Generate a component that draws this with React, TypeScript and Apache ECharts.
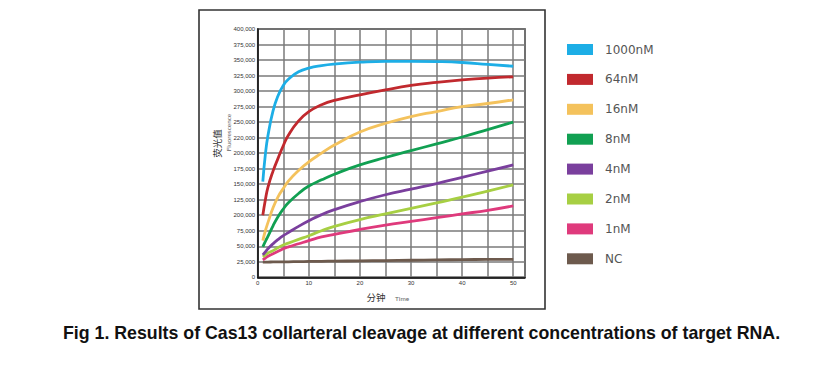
import React, { useEffect, useRef } from "react";
import * as echarts from "echarts";

// Time points (minutes)
const timeMin = [1, 1.5, 2, 3, 4, 5, 6, 8, 10, 12.5, 15, 20, 25, 30, 35, 40, 45, 50];

const seriesNames = ["1000nM", "64nM", "16nM", "8nM", "4nM", "2nM", "1nM", "NC"];
const seriesColors = ["#1DAEE6", "#C1292E", "#F4C25C", "#11A052", "#7A3F9D", "#A7CF43", "#DF3A7C", "#6D5A4D"];

// Fluorescence values
const v1000nM = [154000, 198000, 228000, 268000, 293000, 309000, 319000, 331000, 337000, 341000, 343500, 346500, 348000, 348000, 347500, 346000, 343000, 340000];
const v64nM = [100000, 125000, 145000, 171000, 192000, 212000, 229000, 252000, 267000, 278000, 285000, 294000, 302000, 309000, 314000, 318000, 321000, 323000];
const v16nM = [59000, 75000, 88000, 112000, 130000, 143000, 155000, 172000, 186000, 200000, 213000, 234000, 248000, 259000, 267000, 275000, 280000, 286000];
const v8nM = [49000, 58000, 66000, 83000, 98000, 110000, 120000, 135000, 147000, 157000, 166000, 181000, 193000, 204000, 215000, 226000, 238000, 250000];
const v4nM = [36000, 41000, 46000, 54000, 61000, 67000, 72000, 82000, 91000, 101000, 109000, 122000, 133000, 142000, 151000, 161000, 171000, 181000];
const v2nM = [33000, 36000, 39000, 43000, 48000, 52000, 55000, 61000, 67000, 75000, 82000, 93000, 102000, 111000, 120000, 129000, 139000, 149000];
const v1nM = [28000, 31000, 34000, 38000, 42000, 46000, 49000, 54000, 59000, 65000, 69000, 77000, 84000, 90000, 96000, 102000, 108000, 115000];
const vNC = [24500, 24500, 24600, 24700, 24800, 24900, 25000, 25200, 25500, 25800, 26000, 26500, 27000, 27500, 28000, 28500, 28800, 29000];

const seriesValues = [v1000nM, v64nM, v16nM, v8nM, v4nM, v2nM, v1nM, vNC];

// Tick labels as printed on the y axis (bottom to top)
const yTickLabels = [
  "0", "25,000", "50,000", "75,000", "200,000", "125,000", "150,000", "175,000", "200,000",
  "220,000", "250,000", "275,000", "300,000", "325,000", "350,000", "375,000", "400,000",
];
const xTickLabels = ["0", "10", "20", "30", "40", "50"];

const caption = "Fig 1. Results of Cas13 collarteral cleavage at different concentrations of target RNA.";

export default function App() {
  const ref = useRef<HTMLDivElement>(null);

  useEffect(() => {
    if (!ref.current) return;
    const chart = echarts.init(ref.current, undefined, { renderer: "svg" });
    const gridColor = "#7a7a7a";
    const option: any = {
      animation: false,
      backgroundColor: "#ffffff",
      grid: {
        left: 257.7,
        top: 29,
        right: 831 - 525,
        bottom: 379 - 277.3,
        show: true,
        borderColor: "#222",
        borderWidth: 1.5,
        containLabel: false,
        outerBoundsMode: "none",
      },
      xAxis: {
        type: "value",
        min: 0,
        max: 52.3,
        interval: 5,
        axisLine: { show: true, lineStyle: { color: "#111", width: 1.5 } },
        axisTick: { show: false },
        splitLine: { show: true, lineStyle: { color: gridColor, width: 1.5 } },
        axisLabel: {
          show: true,
          showMaxLabel: false,
          margin: 3,
          fontSize: 6,
          color: "#333",
          fontFamily: "Liberation Sans",
          formatter: (v: number) => (v % 10 === 0 ? xTickLabels[v / 10] ?? "" : ""),
        },
      },
      yAxis: {
        type: "value",
        min: 0,
        max: 400000,
        interval: 25000,
        axisLine: { show: true, lineStyle: { color: "#111", width: 1.5 } },
        axisTick: { show: false },
        splitLine: { show: true, lineStyle: { color: gridColor, width: 1.5 } },
        axisLabel: {
          margin: 2.5,
          fontSize: 6,
          color: "#333",
          fontFamily: "Liberation Sans",
          formatter: (v: number) => yTickLabels[Math.round(v / 25000)] ?? "",
        },
      },
      legend: {
        orient: "vertical",
        left: 567,
        top: 43.5,
        padding: 0,
        icon: "rect",
        itemWidth: 26,
        itemHeight: 11,
        itemGap: 17.9,
        data: seriesNames,
        textStyle: {
          fontSize: 12,
          lineHeight: 11,
          color: "#555",
          fontFamily: "DejaVu Sans",
          padding: [0, 0, 0, 7],
        },
      },
      series: seriesNames.map((name, i) => ({
        name,
        type: "line",
        smooth: true,
        showSymbol: false,
        symbol: "none",
        color: seriesColors[i],
        lineStyle: { color: seriesColors[i], width: 2.8 },
        data: timeMin.map((t, j) => [t, seriesValues[i][j]]),
        z: 10 - i,
      })).reverse(),
      graphic: [
        {
          type: "rect",
          shape: { x: 199, y: 10, width: 346, height: 299 },
          style: { fill: "none", stroke: "#333", lineWidth: 1.6 },
          silent: true,
        },
        {
          type: "text",
          x: 217,
          y: 143.5,
          rotation: Math.PI / 2,
          style: {
            text: "荧光值",
            fontSize: 9.5,
            fontFamily: "Noto Sans CJK SC",
            fill: "#333",
            align: "center",
            verticalAlign: "middle",
          },
        },
        {
          type: "text",
          x: 228,
          y: 132.5,
          rotation: Math.PI / 2,
          style: {
            text: "Fluorescence",
            fontSize: 6.5,
            fontFamily: "Lato",
            fill: "#666",
            align: "center",
            verticalAlign: "middle",
          },
        },
        {
          type: "text",
          x: 366.5,
          y: 296.7,
          style: {
            text: "分钟",
            fontSize: 9.5,
            fontFamily: "Noto Sans CJK SC",
            fill: "#333",
            align: "left",
            verticalAlign: "middle",
          },
        },
        {
          type: "text",
          x: 395,
          y: 298,
          style: {
            text: "Time",
            fontSize: 6.5,
            fontFamily: "Lato",
            fill: "#666",
            align: "left",
            verticalAlign: "middle",
          },
        },
        {
          type: "text",
          x: 63,
          y: 333,
          style: {
            text: caption,
            fontSize: 17.75,
            fontWeight: "bold",
            fontFamily: "Liberation Sans",
            fill: "#111",
            align: "left",
            verticalAlign: "middle",
          },
        },
      ],
    };
    chart.setOption(option);
    return () => chart.dispose();
  }, []);

  return (
    <div
      ref={ref}
      style={{ position: "absolute", left: 0, top: 0, width: 831, height: 379, background: "#fff" }}
    />
  );
}
